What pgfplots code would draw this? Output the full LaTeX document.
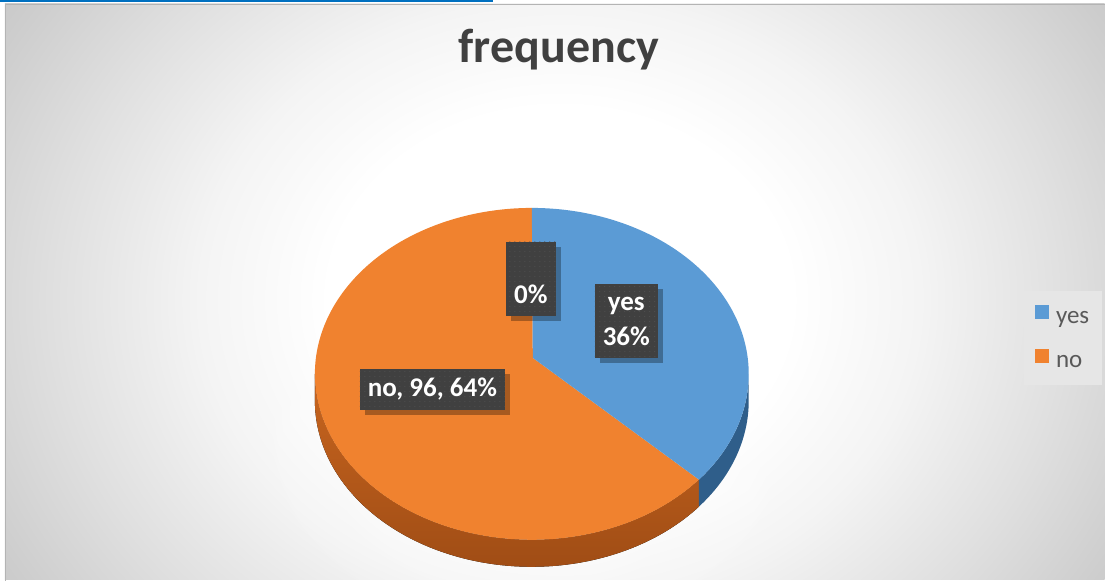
\documentclass[border=0pt]{standalone}
\usepackage{fontspec}
\setmainfont{Carlito}
\usepackage{pgfplots}
\pgfplotsset{compat=1.18}
\usepackage{pgfplotstable}
\usepgfplotslibrary{fillbetween}
\usetikzlibrary{shadows,patterns.meta,fadings}

\definecolor{pieblue}{HTML}{5B9BD5}
\definecolor{pieorange}{HTML}{F0822F}
\definecolor{sideorangeL}{HTML}{C8651F}
\definecolor{sideorangeD}{HTML}{A04D15}
\definecolor{sideblue}{HTML}{2F5E8A}
\definecolor{boxgray}{HTML}{404040}
\definecolor{dotgray}{HTML}{575757}
\definecolor{titlegray}{HTML}{404040}
\definecolor{legendtext}{HTML}{595959}
\definecolor{legendbg}{HTML}{E6E6E6}
\definecolor{linkblue}{HTML}{0070C0}
\definecolor{framegray}{HTML}{B4B4B4}
\definecolor{bgA}{HTML}{FFFFFF}
\definecolor{bgB}{HTML}{F4F4F4}
\definecolor{bgC}{HTML}{E0E0E0}
\definecolor{bgD}{HTML}{CDCDCD}
\definecolor{bgE}{HTML}{C2C2C2}

\pgfdeclareradialshading{chartbg}{\pgfpoint{0bp}{0bp}}{%
  color(0bp)=(bgA); color(8bp)=(bgA); color(12.5bp)=(bgB);
  color(17.5bp)=(bgC); color(22bp)=(bgD); color(25bp)=(bgE); color(50bp)=(bgE)}
\tikzfading[name=glowfade, inner color=transparent!0, outer color=transparent!100]

\pgfplotstableread{
label value
yes 54
no 96
blank 0
}\piedata
\pgfplotstablegetelem{0}{value}\of\piedata \let\vyes\pgfplotsretval
\pgfplotstablegetelem{1}{value}\of\piedata \let\vno\pgfplotsretval
\pgfplotstablegetelem{2}{value}\of\piedata \let\vnil\pgfplotsretval
\pgfmathsetmacro\vtot{\vyes+\vno+\vnil}
\pgfmathsetmacro\aA{90-360*(\vyes/\vtot)}
\pgfmathsetmacro\aB{\aA-360*(\vno/\vtot)}

\tikzset{lbl/.style={fill=boxgray, text=white, font=\fontsize{27}{35}\selectfont\bfseries,
    align=center, inner xsep=7pt, inner ysep=2pt,
    drop shadow={shadow xshift=5pt, shadow yshift=-5pt, fill=black, opacity=0.3},
    postaction={pattern={Dots[distance=5pt, radius=0.5pt]}, pattern color=dotgray}}}

\begin{document}
\begin{tikzpicture}
\begin{scope}[x=1pt,y=1pt]
  \fill[white] (0,0) rectangle (1105,581);
  \begin{scope}
    \clip (5,1) rectangle (1105,577);
    \shade[shading=chartbg] (560-720,281-600) rectangle (560+720,281+600);
    \fill[white, path fading=glowfade, fill opacity=0.9] (535,168) ellipse [x radius=300, y radius=230];
  \end{scope}
  \draw[framegray, line width=0.8pt] (5,0) -- (5,577) -- (1105,577);
  \fill[linkblue] (0,581) rectangle (493,579);
\end{scope}
\begin{axis}[
  width=1105pt, height=581pt, scale only axis,
  xmin=0, xmax=1105, ymin=0, ymax=581, y dir=reverse,
  hide axis, clip=false,
  legend image code/.code={\path[#1, draw=none] (0pt,-1pt) rectangle (14pt,13pt); \path (19pt,0pt);},
  legend style={at={(axis cs:1024,291)}, anchor=north west, draw=none, fill=legendbg,
    font=\fontsize{25}{30}\selectfont, text=legendtext,
    inner xsep=11pt, inner ysep=14pt, row sep=22pt},
  legend cell align=left,
]
% side of the pie (front band)
\addplot[draw=none, name path=tfO, domain=-180:\aA, samples=80, forget plot]
  ({532+217*cos(x)},{374-166*sin(x)});
\addplot[draw=none, name path=bfO, domain=-180:\aA, samples=80, forget plot]
  ({532+217*cos(x)},{401-166*sin(x)});
\addplot[top color=sideorangeL, bottom color=sideorangeD, draw=none, forget plot]
  fill between[of=tfO and bfO, on layer=main];
\addplot[draw=none, name path=tfB, domain=\aA:0, samples=40, forget plot]
  ({532+217*cos(x)},{374-166*sin(x)});
\addplot[draw=none, name path=bfB, domain=\aA:0, samples=40, forget plot]
  ({532+217*cos(x)},{401-166*sin(x)});
\addplot[fill=sideblue, draw=none, forget plot] fill between[of=tfB and bfB, on layer=main];
% top faces
\addplot[fill=pieorange, draw=none, domain=\aB:\aA, samples=150, forget plot]
  ({532+217*cos(x)},{374-166*sin(x)}) -- (533,358) -- cycle;
\addplot[fill=pieblue, draw=none, domain=\aA:90, samples=100, forget plot]
  ({532+217*cos(x)},{374-166*sin(x)}) -- (533,358) -- cycle;
% legend
\addlegendimage{fill=pieblue}
\addlegendentry{yes}
\addlegendimage{fill=pieorange}
\addlegendentry{no}
% title
\node[anchor=base, font=\fontsize{48}{54}\selectfont\bfseries, text=titlegray] at (559,63) {frequency};
% data labels
\node[lbl, minimum width=50pt, minimum height=74pt] at (531,279) {\strut\\\strut 0\%};
\node[lbl, minimum width=63pt, minimum height=74pt] at (626.5,321) {\strut yes\\\strut 36\%};
\node[lbl, minimum width=145pt, minimum height=41pt] at (432.5,389.5) {\strut no, 96, 64\%};
\end{axis}
\end{tikzpicture}
\end{document}
